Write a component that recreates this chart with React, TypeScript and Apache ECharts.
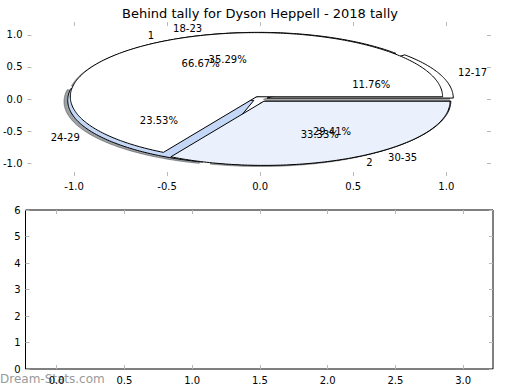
import React, { useEffect, useRef } from "react";
import * as echarts from "echarts";

const titleText = "Behind tally for Dyson Heppell - 2018 tally";
const ageGroups = ["12-17", "18-23", "24-29", "30-35"];
const ageShares = [11.76, 35.29, 23.53, 29.41];
const ageColors = ["#ffffff", "#ffffff", "#c5d7f7", "#e8effc"];
const teamGroups = ["1", "2"];
const teamShares = [66.67, 33.33];
const teamColors = ["#ffffff", "#eaf0fc"];
const pieTicks = [-1, -0.5, 0, 0.5, 1];
const lowerXTicks = [0, 0.5, 1, 1.5, 2, 2.5, 3];
const lowerYTicks = [0, 1, 2, 3, 4, 5, 6];
const watermark = "Dream-Stats.com";

const EXPLODE = 0.04;
const FONT = "DejaVu Sans";

type Wedge = {
  cx: number;
  cy: number;
  start: number;
  end: number;
  mid: number;
  label: string;
  pct: string;
  color: string;
};

function buildWedges(labels: string[], shares: number[], colors: string[]): Wedge[] {
  const total = shares.reduce((a, b) => a + b, 0);
  let acc = 0;
  return labels.map((label, i) => {
    const start = (acc / total) * 360;
    acc += shares[i];
    const end = (acc / total) * 360;
    const mid = ((start + end) / 2) * (Math.PI / 180);
    return {
      cx: EXPLODE * Math.cos(mid),
      cy: EXPLODE * Math.sin(mid),
      start,
      end,
      mid,
      label,
      pct: shares[i].toFixed(2) + "%",
      color: colors[i],
    };
  });
}

const outerWedges = buildWedges(ageGroups, ageShares, ageColors);
const innerWedges = buildWedges(teamGroups, teamShares, teamColors);

function wedgePoints(api: any, w: Wedge, dx: number, dy: number) {
  const pts: number[][] = [api.coord([w.cx + dx, w.cy + dy])];
  const steps = Math.max(2, Math.ceil(w.end - w.start));
  for (let k = 0; k <= steps; k++) {
    const t = ((w.start + ((w.end - w.start) * k) / steps) * Math.PI) / 180;
    pts.push(api.coord([w.cx + dx + Math.cos(t), w.cy + dy + Math.sin(t)]));
  }
  return pts;
}

function shadowColor(hex: string) {
  const r = parseInt(hex.slice(1, 3), 16) * 0.3;
  const g = parseInt(hex.slice(3, 5), 16) * 0.3;
  const b = parseInt(hex.slice(5, 7), 16) * 0.3;
  return `rgba(${Math.round(r)},${Math.round(g)},${Math.round(b)},0.5)`;
}

export default function App() {
  const ref = useRef<HTMLDivElement>(null);
  useEffect(() => {
    if (!ref.current) return;
    const chart = echarts.init(ref.current, undefined, { renderer: "svg" });

    const textItems: { x: number; y: number; text: string; align: string }[] = [];
    [...outerWedges, ...innerWedges].forEach((w) => {
      const lx = w.cx + 1.1 * Math.cos(w.mid);
      const ly = w.cy + 1.1 * Math.sin(w.mid);
      textItems.push({ x: lx, y: ly, text: w.label, align: lx > 0 ? "left" : "right" });
      textItems.push({
        x: w.cx + 0.6 * Math.cos(w.mid),
        y: w.cy + 0.6 * Math.sin(w.mid),
        text: w.pct,
        align: "center",
      });
    });

    const tickStyle = { color: "#b8b8b8", width: 1 };
    const labelStyle = { fontSize: 10, color: "#000", fontFamily: FONT };
    const hiddenLine = { show: false, onZero: false };

    const option: any = {
      animation: false,
      title: {
        text: titleText,
        left: "center",
        top: 2,
        textStyle: { fontSize: 13, fontWeight: "normal", color: "#000", fontFamily: FONT },
      },
      graphic: [
        {
          type: "text",
          left: 0,
          top: 373,
          style: { text: watermark, fill: "#9a9a9a", font: `12px '${FONT}'` },
        },
      ],
      grid: [
        { left: 26, top: 22, width: 465, height: 154, show: false },
        { left: 25.5, top: 210, width: 467.5, height: 159, show: true, borderColor: "#000", borderWidth: 1 },
      ],
      xAxis: [
        {
          gridIndex: 0, type: "value", min: -1.25, max: 1.24, position: "bottom",
          axisLine: hiddenLine, splitLine: { show: false },
          axisTick: { inside: true, length: 4, lineStyle: tickStyle, customValues: pieTicks },
          axisLabel: { ...labelStyle, margin: 5, customValues: pieTicks, formatter: (v: number) => v.toFixed(1) },
        },
        {
          gridIndex: 0, type: "value", min: -1.25, max: 1.24, position: "top",
          axisLine: hiddenLine, splitLine: { show: false },
          axisTick: { inside: true, length: 4, lineStyle: tickStyle, customValues: pieTicks },
          axisLabel: { show: false },
        },
        {
          gridIndex: 1, type: "value", min: -0.23, max: 3.22, position: "bottom",
          axisLine: hiddenLine, splitLine: { show: false },
          axisTick: { inside: true, length: 4, lineStyle: tickStyle, customValues: lowerXTicks },
          axisLabel: { ...labelStyle, margin: 6, customValues: lowerXTicks, formatter: (v: number) => v.toFixed(1) },
        },
        {
          gridIndex: 1, type: "value", min: -0.23, max: 3.22, position: "top",
          axisLine: hiddenLine, splitLine: { show: false },
          axisTick: { inside: true, length: 4, lineStyle: tickStyle, customValues: lowerXTicks },
          axisLabel: { show: false },
        },
      ],
      yAxis: [
        {
          gridIndex: 0, type: "value", min: -1.2, max: 1.2, position: "left",
          axisLine: hiddenLine, splitLine: { show: false },
          axisTick: { inside: true, length: 4, lineStyle: tickStyle, customValues: pieTicks },
          axisLabel: { ...labelStyle, margin: 5, customValues: pieTicks, formatter: (v: number) => v.toFixed(1) },
        },
        {
          gridIndex: 0, type: "value", min: -1.2, max: 1.2, position: "right",
          axisLine: hiddenLine, splitLine: { show: false },
          axisTick: { inside: true, length: 4, lineStyle: tickStyle, customValues: pieTicks },
          axisLabel: { show: false },
        },
        {
          gridIndex: 1, type: "value", min: 0, max: 6, interval: 1, position: "left",
          axisLine: hiddenLine, splitLine: { show: false },
          axisTick: { inside: true, length: 4, lineStyle: tickStyle, customValues: lowerYTicks },
          axisLabel: { ...labelStyle, margin: 5, customValues: lowerYTicks },
        },
        {
          gridIndex: 1, type: "value", min: 0, max: 6, interval: 1, position: "right",
          axisLine: hiddenLine, splitLine: { show: false },
          axisTick: { inside: true, length: 4, lineStyle: tickStyle, customValues: lowerYTicks },
          axisLabel: { show: false },
        },
      ],
      series: [
        {
          type: "custom", xAxisIndex: 0, yAxisIndex: 0, z: 1, clip: false,
          data: outerWedges.map((w) => [w.cx, w.cy]),
          encode: { x: 0, y: 1 },
          renderItem: (params: any, api: any) => {
            const w = outerWedges[params.dataIndex];
            const c = shadowColor(w.color);
            return {
              type: "polygon",
              shape: { points: wedgePoints(api, w, -0.02, -0.02) },
              style: { fill: c, stroke: c, lineWidth: 1 },
            };
          },
        },
        {
          type: "custom", xAxisIndex: 0, yAxisIndex: 0, z: 2, clip: false,
          data: outerWedges.map((w) => [w.cx, w.cy]),
          encode: { x: 0, y: 1 },
          renderItem: (params: any, api: any) => {
            const w = outerWedges[params.dataIndex];
            return {
              type: "polygon",
              shape: { points: wedgePoints(api, w, 0, 0) },
              style: { fill: w.color, stroke: "#000", lineWidth: 1, lineJoin: "round" },
            };
          },
        },
        {
          type: "custom", xAxisIndex: 0, yAxisIndex: 0, z: 3, clip: false,
          data: innerWedges.map((w) => [w.cx, w.cy]),
          encode: { x: 0, y: 1 },
          renderItem: (params: any, api: any) => {
            const w = innerWedges[params.dataIndex];
            return {
              type: "polygon",
              shape: { points: wedgePoints(api, w, 0, 0) },
              style: { fill: w.color, stroke: "#000", lineWidth: 1, lineJoin: "round" },
            };
          },
        },
        {
          type: "custom", xAxisIndex: 0, yAxisIndex: 0, z: 4, clip: false,
          data: textItems.map((t) => [t.x, t.y]),
          encode: { x: 0, y: 1 },
          renderItem: (params: any, api: any) => {
            const t = textItems[params.dataIndex];
            const p = api.coord([t.x, t.y]);
            return {
              type: "text",
              x: p[0],
              y: p[1],
              style: {
                text: t.text,
                fill: "#000",
                align: t.align,
                verticalAlign: "middle",
                font: `10px '${FONT}'`,
              },
            };
          },
        },
        { type: "line", xAxisIndex: 2, yAxisIndex: 2, data: [] },
      ],
    };
    chart.setOption(option);
    return () => chart.dispose();
  }, []);
  return (
    <div
      ref={ref}
      style={{ position: "fixed", left: 0, top: 0, width: 520, height: 390, background: "#fff" }}
    />
  );
}
